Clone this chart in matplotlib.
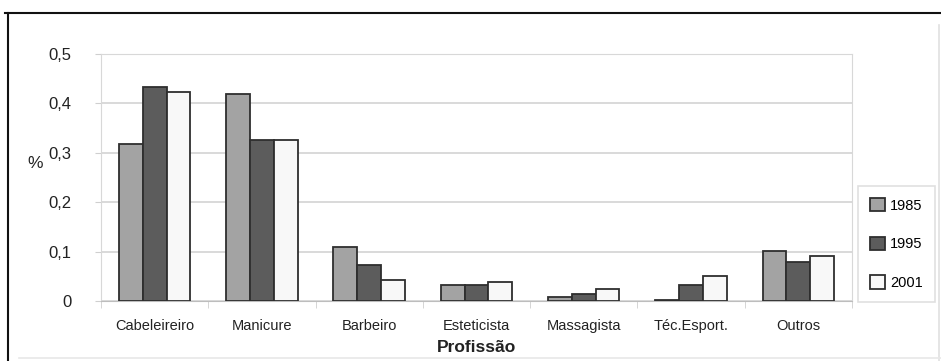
"""Participação por profissão nos anos de 1985, 1995 e 2001."""

import matplotlib.pyplot as plt
import numpy as np
from matplotlib.lines import Line2D

plt.rcParams["font.family"] = ["Liberation Sans", "DejaVu Sans"]

profissoes = ["Cabeleireiro", "Manicure", "Barbeiro", "Esteticista",
              "Massagista", "Téc.Esport.", "Outros"]
anos = ["1985", "1995", "2001"]
v1985 = [0.318, 0.419, 0.110, 0.032, 0.009, 0.002, 0.102]
v1995 = [0.433, 0.326, 0.073, 0.032, 0.014, 0.032, 0.079]
v2001 = [0.423, 0.326, 0.043, 0.038, 0.024, 0.051, 0.092]
yticks = [0, 0.1, 0.2, 0.3, 0.4, 0.5]

COLORS = ["#a3a3a3", "#5c5c5c", "#f8f8f8"]
EDGE = "#2e2e2e"
GRID = "#cfcfcf"
TEXT = "#222222"


def main():
    fig = plt.figure(figsize=(9.41, 3.61), dpi=100)
    ax = fig.add_axes([0.1073, 0.1662, 0.798, 0.684])

    x = np.arange(len(profissoes))
    width = 0.222
    for i, (ano, vals) in enumerate(zip(anos, [v1985, v1995, v2001])):
        ax.bar(x + (i - 1) * width, vals, width=width, color=COLORS[i],
               edgecolor=EDGE, linewidth=1.3, label=ano, zorder=3)

    ax.set_xlim(-0.5, len(profissoes) - 0.5)
    ax.set_ylim(0, 0.5)
    ax.set_yticks(yticks)
    ax.set_yticklabels([f"{t:g}".replace(".", ",") for t in yticks])
    ax.set_xticks(x)
    ax.set_xticklabels(profissoes)
    ax.set_xticks(np.arange(-0.5, len(profissoes)), minor=True)

    ax.tick_params(axis="y", length=4, pad=17, color=GRID, labelsize=12,
                   labelcolor=TEXT)
    ax.tick_params(axis="x", which="major", length=0, pad=13, labelsize=10.5,
                   labelcolor=TEXT)
    ax.tick_params(axis="x", which="minor", length=5, color=GRID)

    ax.grid(axis="y", color=GRID, linewidth=1.1, zorder=0)
    ax.set_axisbelow(True)
    for side in ["left", "right", "top"]:
        ax.spines[side].set_color("#d8d8d8")
    ax.spines["bottom"].set_color("#bdbdbd")
    ax.hlines(0.5, 5.09, 6.5, color="#9a9a9a", linewidth=1.3, zorder=1)

    ax.set_ylabel("%", rotation=0, fontsize=12.5, va="center", ha="center",
                  color=TEXT)
    ax.yaxis.set_label_coords(-0.088, 0.555)
    ax.set_xlabel("Profissão", fontsize=12.5, fontweight="bold", labelpad=5,
                  color=TEXT)

    leg = ax.legend(loc="upper left", bbox_to_anchor=(1.008, 0.466),
                    frameon=True, fancybox=False, fontsize=10.5,
                    handlelength=1.0, handleheight=1.0, handletextpad=0.35,
                    labelspacing=1.65, borderpad=0.85, borderaxespad=0)
    leg.get_frame().set_edgecolor("#d8d8d8")
    leg.get_frame().set_linewidth(1.2)

    # moldura externa: topo e esquerda pretos, direita e base claros
    fig.add_artist(Line2D([0.005, 1.0], [0.964, 0.964], color="#111111",
                          linewidth=1.5))
    fig.add_artist(Line2D([0.009, 0.009], [0.0, 0.964], color="#111111",
                          linewidth=1.5))
    fig.add_artist(Line2D([0.998, 0.998], [0.0, 0.93], color="#e0e0e0",
                          linewidth=1.2))
    fig.add_artist(Line2D([0.02, 1.0], [0.009, 0.009], color="#e8e8e8",
                          linewidth=1.2))

    fig.savefig("out.png", dpi=100)


if __name__ == "__main__":
    main()
